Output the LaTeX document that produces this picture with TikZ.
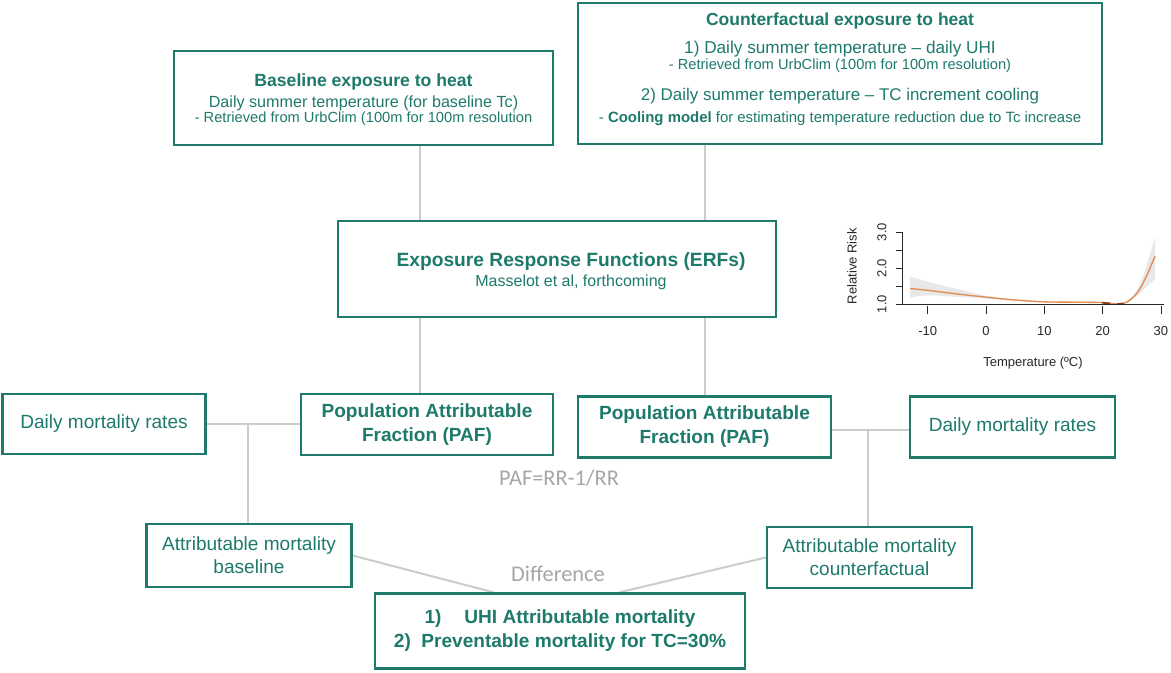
\documentclass[tikz,border=0pt]{standalone}
\usepackage{fontspec}
\setmainfont{Liberation Sans}
\newfontfamily\calfont{Carlito}
\usetikzlibrary{backgrounds}
\definecolor{tealc}{RGB}{30,122,107}
\definecolor{connc}{RGB}{204,204,204}
\definecolor{grayt}{RGB}{166,166,166}
\definecolor{bandc}{RGB}{232,232,232}
\definecolor{curvec}{RGB}{228,140,80}
\definecolor{darkc}{RGB}{130,55,30}
\definecolor{axisc}{RGB}{40,40,40}
\begin{document}
\begin{tikzpicture}[x=0.75pt,y=-0.75pt,
  box/.style={draw=tealc, line width=1.6pt, fill=white, inner sep=0pt, align=center, text=tealc},
  sz/.style 2 args={minimum width=#1*0.75pt, minimum height=#2*0.75pt},
  conn/.style={draw=connc, line width=1.5pt},
  tt/.style={text=tealc, inner sep=0pt, anchor=base},
  big/.style={font=\fontsize{14.3pt}{17.5pt}\selectfont},
  bigb/.style={font=\bfseries\fontsize{14.3pt}{18pt}\selectfont},
  gtxt/.style={text=grayt, inner sep=0pt, font=\calfont\fontsize{16.8pt}{18pt}\selectfont},
  axl/.style={text=axisc, inner sep=0pt, font=\fontsize{9.75pt}{11pt}\selectfont},
]
\useasboundingbox (0,0) rectangle (1171,673);

% boxes
\node[box, sz={379}{94}] (base) at (363.5,98) {};
\node[box, sz={524}{141}] (cf) at (840,73.5) {};
\node[box, sz={438}{96}] (erf) at (557,269) {};
\node[box, sz={203}{60}, big] (dmrL) at (104,424) {Daily mortality rates};
\node[box, sz={252}{61}, bigb] (pafL) at (427,424.5) {Population Attributable\\Fraction (PAF)};
\node[box, sz={253}{61}, bigb] (pafR) at (704.5,427) {Population Attributable\\Fraction (PAF)};
\node[box, sz={205}{61}, big] (dmrR) at (1012.5,427) {Daily mortality rates};
\node[box, sz={205}{63}, big] (amb) at (249,555.5) {Attributable mortality\\baseline};
\node[box, sz={205}{61}, big] (amc) at (869.5,557.5) {Attributable mortality\\counterfactual};
\node[box, sz={370}{75}, font=\bfseries\fontsize{14.3pt}{18pt}\selectfont] (fin) at (560,631)
  {1)\hspace{1.2em}UHI Attributable mortality\\2)\ \ Preventable mortality for TC=30\%};

% texts of the upper boxes
\node[tt, font=\bfseries\fontsize{13.2pt}{15pt}\selectfont] (baseT) at (363.5,87) {Baseline exposure to heat};
\node[tt, font=\fontsize{12.1pt}{14pt}\selectfont] (baseA) at (363.5,108) {Daily summer temperature (for baseline Tc)};
\node[tt, font=\fontsize{11pt}{12pt}\selectfont] (baseB) at (363.5,123) {- Retrieved from UrbClim (100m for 100m resolution};

\node[tt, font=\bfseries\fontsize{13.1pt}{15pt}\selectfont] (cfT) at (840,26) {Counterfactual exposure to heat};
\node[tt, font=\fontsize{12.9pt}{14pt}\selectfont] (cfA) at (840,53.3) {1) Daily summer temperature -- daily UHI};
\node[tt, font=\fontsize{11pt}{12pt}\selectfont] (cfB) at (840,70) {- Retrieved from UrbClim (100m for 100m resolution)};
\node[tt, font=\fontsize{12.7pt}{14pt}\selectfont] (cfC) at (840,100.7) {2) Daily summer temperature -- TC increment cooling};
\node[tt, font=\fontsize{11.2pt}{12pt}\selectfont] (cfD) at (840,122.3) {- \textbf{Cooling model} for estimating temperature reduction due to Tc increase};

\node[tt, font=\bfseries\fontsize{14.4pt}{16pt}\selectfont] (erfT) at (571,266.7) {Exposure Response Functions (ERFs)};
\node[tt, font=\fontsize{12pt}{14pt}\selectfont] (erfA) at (571,286.7) {Masselot et al, forthcoming};

% grey labels
\node[gtxt] (pafeq) at (559,478) {PAF=RR-1/RR};
\node[gtxt] (diff) at (558,574) {Difference};

% connectors
\coordinate (xa) at (420,0);
\coordinate (xb) at (705,0);
\coordinate (jL) at (248,0);
\coordinate (jR) at (868,430);
\coordinate (d1) at (494,0);
\coordinate (d2) at (619,0);
\begin{pgfonlayer}{background}
\fill[white] (0,0) rectangle (1171,673);
\draw[conn] (xa |- base.south) -- (xa |- erf.north);
\draw[conn] (xb |- cf.south) -- (xb |- erf.north);
\draw[conn] (xa |- erf.south) -- (xa |- pafL.north);
\draw[conn] (xb |- erf.south) -- (xb |- pafR.north);
\draw[conn] (dmrL.east) -- (dmrL.east -| pafL.west);
\draw[conn] (jL |- dmrL.east) -- (jL |- amb.north);
\draw[conn] (pafR.east |- jR) -- (dmrR.west |- jR);
\draw[conn] (jR) -- (jR |- amc.north);
\draw[conn] (amb.east) -- (d1 |- fin.north);
\draw[conn] (amc.west) -- (d2 |- fin.north);
\end{pgfonlayer}

% ERF chart
\begin{scope}[shift={(986,304)}, x=4.3725pt, y=27pt]
\fill[bandc] plot[smooth] coordinates {(-13,0.76) (-10,0.62) (-5,0.42) (0,0.23) (5,0.13) (10,0.08) (15,0.07) (20,0.06) (22,0.02) (23,0.0) (24,0.06) (25,0.2) (26,0.42) (27,0.8) (28,1.3) (29,1.87)}
  -- plot[smooth] coordinates {(29,0.7) (28,0.55) (27,0.4) (26,0.24) (25,0.13) (24,0.03) (23,-0.01) (22,-0.01) (20,0.02) (15,0.03) (10,0.04) (5,0.09) (0,0.15) (-5,0.2) (-10,0.24) (-13,0.18)} -- cycle;
\draw[curvec, line width=1pt] plot[smooth] coordinates {(-13,0.43) (-10,0.38) (-5,0.28) (0,0.19) (5,0.11) (10,0.06) (15,0.05) (20,0.04) (22,0.005) (23,0) (24,0.04) (25,0.15) (26,0.32) (27,0.6) (28,0.95) (29,1.33)};
\draw[darkc, line width=1.2pt] (19.9,0.035) -- (21.3,0.015);
\draw[darkc, line width=1.2pt] (22.5,0.0) -- (23.6,0.015);
\draw[axisc, line width=0.6pt] (-14.41,0) -- (30.5,0);
\draw[axisc, line width=0.6pt] (-14.41,0) -- (-14.41,2);
\foreach \r in {0,0.5,1,1.5,2} \draw[axisc, line width=0.6pt] (-14.41,\r) -- (-15.44,\r);
\foreach \t in {-10,0,10,20,30} {
  \draw[axisc, line width=0.6pt] (\t,-0.05) -- (\t,-0.28);
  \node[axl, name=xt\t] at (\t,-0.75) {\t};
}
\node[axl, rotate=90] (y1) at (-17.84,0) {1.0};
\node[axl, rotate=90] (y2) at (-17.84,1) {2.0};
\node[axl, rotate=90] (y3) at (-17.84,2) {3.0};
\node[axl, rotate=90] (ylab) at (-23.0,1.05) {Relative Risk};
\node[axl] (xlab) at (8.06,-1.64) {Temperature (ºC)};
\end{scope}
\end{tikzpicture}
\end{document}
